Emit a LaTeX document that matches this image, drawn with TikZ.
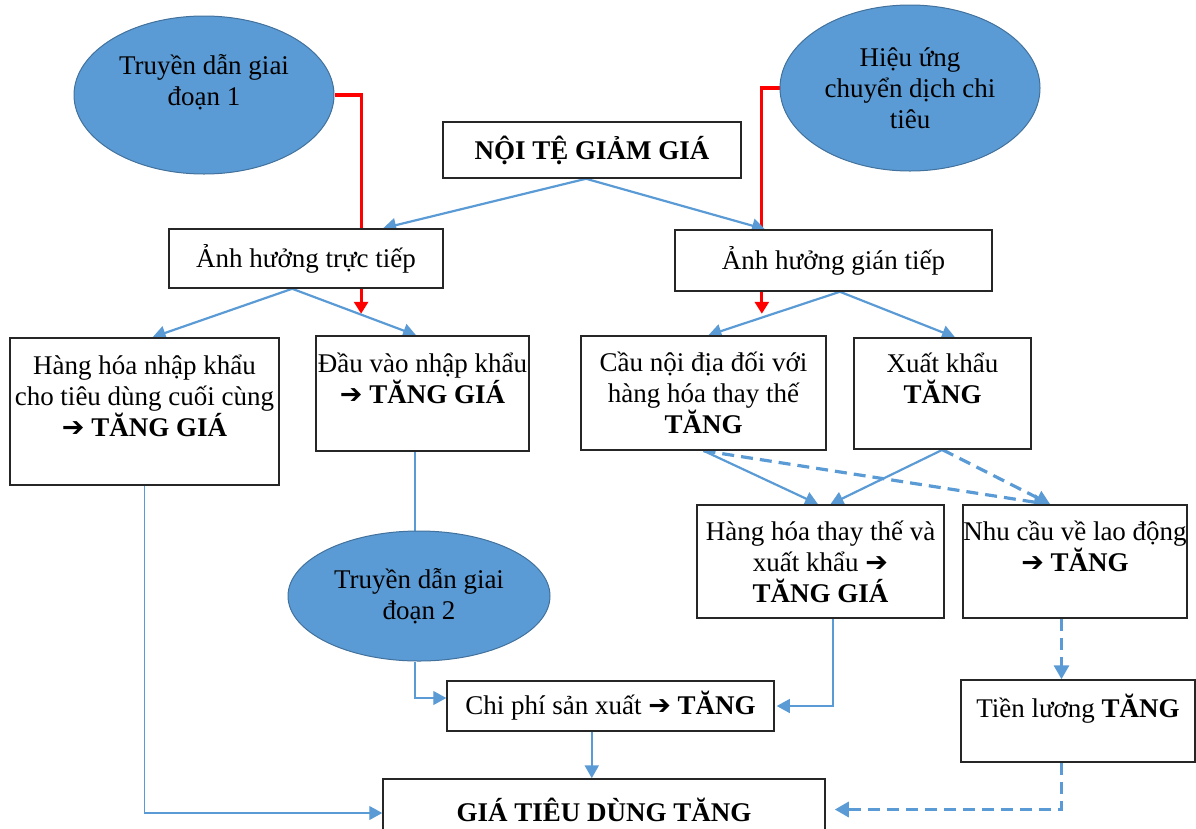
\documentclass[tikz,border=0pt]{standalone}
\usepackage{fontspec}
\setmainfont{Liberation Serif}
\newfontfamily\dingfont{DejaVu Sans}
\usepackage{xcolor}
\usetikzlibrary{arrows.meta,shapes.geometric,calc,backgrounds}
\definecolor{lineblue}{RGB}{91,155,213}
\definecolor{ellfill}{RGB}{91,155,213}
\definecolor{ellborder}{RGB}{65,113,156}
\newcommand{\ra}{{\dingfont\bfseries ➔}}

\tikzset{
	box/.style={rectangle, draw=black!85, fill=white, line width=1.5pt, inner sep=0pt, align=center},
	ell/.style={ellipse, draw=ellborder, fill=ellfill, line width=1pt, inner sep=0pt, align=center},
	conn/.style={lineblue, line width=2.2pt, -{Triangle[length=13pt,width=14pt]}},
	thinconn/.style={lineblue, line width=1.3pt, -{Triangle[length=13pt,width=14pt]}},
	thinline/.style={lineblue, line width=1.3pt},
	dashconn/.style={lineblue, line width=3.2pt, dash pattern=on 12pt off 7pt, -{Triangle[length=14pt,width=15pt]}},
	redline/.style={red, line width=3.2pt, -{Triangle[length=12pt,width=14pt]}}
}

\begin{document}
\begin{tikzpicture}[x=1pt, y=-1pt]
		\tikzstyle{every node}=[font=\fontsize{27}{31}\selectfont]
		\useasboundingbox (0,0) rectangle (1196,828);
		% ellipses
		\node[ell, minimum width=260, minimum height=158] (td1) at (204,95) {Truyền dẫn giai\\đoạn 1\\\mbox{}};
		\node[ell, minimum width=260, minimum height=166] (hieu) at (910,88) {Hiệu ứng\\chuyển dịch chi\\tiêu};
		\node[ell, minimum width=262, minimum height=130] (td2) at (419,596) {Truyền dẫn giai\\đoạn 2};
		% boxes
		\node[box, minimum width=298, minimum height=56] (noite) at (592,150) {\textbf{NỘI TỆ GIẢM GIÁ}};
		\node[box, minimum width=274, minimum height=59] (truc) at (306,258.5) {Ảnh hưởng trực tiếp};
		\node[box, minimum width=317, minimum height=61] (gian) at (833.5,260.5) {Ảnh hưởng gián tiếp};
		\node[box, minimum width=269, minimum height=147] (hhnk) at (144.5,411.5) {Hàng hóa nhập khẩu\\cho tiêu dùng cuối cùng\\\textbf{\ra\ TĂNG GIÁ}\\\mbox{}};
		\node[box, minimum width=213, minimum height=115] (dvnk) at (422.5,393.5) {Đầu vào nhập khẩu\\\textbf{\ra\ TĂNG GIÁ}\\\mbox{}};
		\node[box, minimum width=245, minimum height=114] (caund) at (703.5,393) {Cầu nội địa đối với\\hàng hóa thay thế\\\textbf{TĂNG}};
		\node[box, minimum width=177, minimum height=111] (xk) at (942.5,393.5) {Xuất khẩu\\\textbf{TĂNG}\\\mbox{}};
		\node[box, minimum width=247, minimum height=113] (hhtt) at (820.5,561.5) {Hàng hóa thay thế và\\xuất khẩu \ra\\\textbf{TĂNG GIÁ}};
		\node[box, minimum width=224, minimum height=113] (ncld) at (1075,561.5) {Nhu cầu về lao động\\\textbf{\ra\ TĂNG}\\\mbox{}};
		\node[box, minimum width=327, minimum height=50] (cpsx) at (610.5,706) {Chi phí sản xuất \textbf{\ra\ TĂNG}};
		\node[box, minimum width=234, minimum height=82] (tl) at (1078,721) {Tiền lương \textbf{TĂNG}\\\mbox{}};
		\node[box, minimum width=442, minimum height=61] (gtd) at (604,809.5) {\textbf{GIÁ TIÊU DÙNG TĂNG}};
		% connectors
		\begin{scope}[on background layer]
		\draw[redline] (td1.east) -| ($(truc.south west)!0.7!(truc.south east)+(0,25)$);
		\draw[redline] (hieu.west) -| ($(gian.south west)!0.275!(gian.south east)+(0,22)$);
		\coordinate (nt) at ($(noite.south west)!0.48!(noite.south east)$);
		\draw[conn] (nt) -- ($(truc.north west)!0.78!(truc.north east)$);
		\draw[conn] (nt) -- ($(gian.north west)!0.285!(gian.north east)$);
		\coordinate (tt) at ($(truc.south west)!0.45!(truc.south east)$);
		\draw[conn] (tt) -- ($(hhnk.north west)!0.53!(hhnk.north east)$);
		\draw[conn] (tt) -- ($(dvnk.north west)!0.47!(dvnk.north east)$);
		\coordinate (gt) at ($(gian.south west)!0.52!(gian.south east)$);
		\draw[conn] (gt) -- ($(caund.north west)!0.52!(caund.north east)$);
		\draw[conn] (gt) -- ($(xk.north west)!0.57!(xk.north east)$);
		\draw[conn] (caund.south) -- ($(hhtt.north west)!0.49!(hhtt.north east)$);
		\draw[conn] (xk.south) -- ($(hhtt.north west)!0.54!(hhtt.north east)$);
		\draw[dashconn] (caund.south) -- ($(ncld.north west)!0.38!(ncld.north east)$);
		\draw[dashconn] (xk.south) -- ($(ncld.north west)!0.39!(ncld.north east)$);
		\coordinate (nc) at ($(ncld.south west)!0.44!(ncld.south east)$);
		\draw[dashconn] (nc) -- (nc |- tl.north);
		\draw[dashconn] (nc |- tl.south) |- ([xshift=9pt]gtd.east);
		\coordinate (ht) at ($(hhtt.south west)!0.55!(hhtt.south east)$);
		\draw[thinconn] (ht) |- ([xshift=2pt]cpsx.east);
		\coordinate (dv) at ($(dvnk.south west)!0.465!(dvnk.south east)$);
		\draw[thinline] (dv) -- (dv |- td2.north);
		\draw[thinconn] (dv |- td2.south) |- ([yshift=8pt]cpsx.west);
		\coordinate (cp) at ($(cpsx.south west)!0.443!(cpsx.south east)$);
		\draw[conn] (cp) -- (cp |- gtd.north);
		\draw[thinconn] (hhnk.south) |- ([yshift=-3.5pt]gtd.west);
		\end{scope}
	\end{tikzpicture}
\end{document}
